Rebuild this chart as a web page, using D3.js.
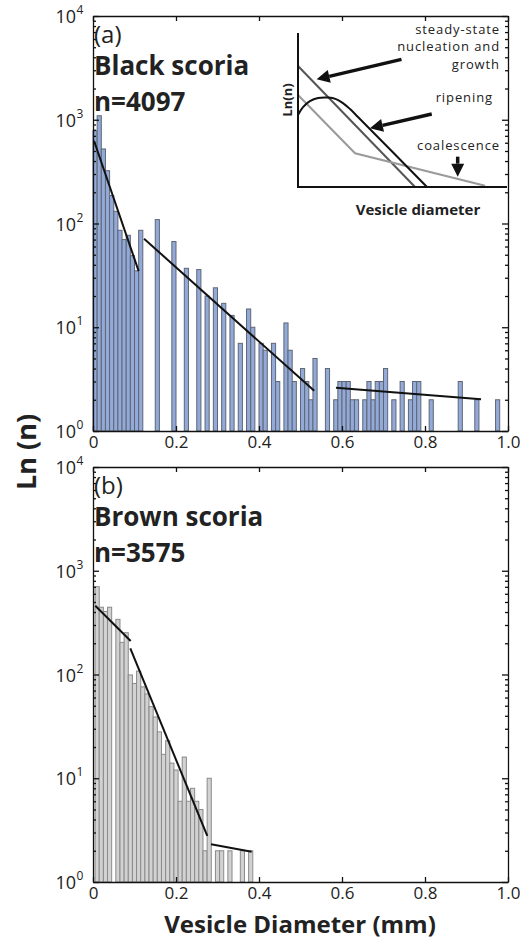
<!DOCTYPE html>
<html>
<head>
<meta charset="utf-8">
<script src="https://cdn.jsdelivr.net/npm/d3@7"></script>
<style>
  body { margin: 0; background: #fff; }
  svg { display: block; font-family: "Open Sans", sans-serif; }
</style>
</head>
<body>
<svg id="chart" width="520" height="946"></svg>
<script>
// (a) black scoria: bin centres (mm) and counts per 0.01 mm bin
var blackBins = [0.005, 0.015, 0.025, 0.035, 0.045, 0.055, 0.065, 0.075, 0.085, 0.095, 0.105, 0.115,
  0.155, 0.195, 0.225, 0.255, 0.275, 0.295, 0.315, 0.335, 0.355, 0.375, 0.385, 0.405, 0.415,
  0.435, 0.445, 0.465, 0.475, 0.485, 0.505, 0.515, 0.525, 0.535, 0.565, 0.585, 0.595, 0.605,
  0.615, 0.625, 0.635, 0.655, 0.665, 0.675, 0.685, 0.695, 0.705, 0.725, 0.745, 0.765, 0.775,
  0.785, 0.815, 0.885, 0.925, 0.975];
var blackCounts = [784, 1093, 523, 323, 186, 131, 86, 70, 77, 49, 35, 86,
  109, 67, 37, 36, 20, 24, 17, 13, 7, 15, 10, 7, 6,
  7, 3, 11, 6, 3, 4, 3, 2, 5, 4, 2, 3, 3,
  3, 2, 2, 2, 3, 2, 3, 3, 4, 2, 3, 2, 3,
  3, 2, 3, 2, 2];

// (b) brown scoria
var brownBins = [0.01, 0.02, 0.03, 0.04, 0.06, 0.07, 0.08, 0.09, 0.10, 0.11, 0.12, 0.13, 0.14,
  0.15, 0.16, 0.17, 0.18, 0.19, 0.20, 0.21, 0.22, 0.23, 0.24, 0.25, 0.26, 0.27, 0.28,
  0.30, 0.31, 0.33, 0.36, 0.38];
var brownCounts = [702, 445, 405, 445, 340, 204, 253, 99, 82, 108, 76, 65, 49,
  39, 28, 17, 23, 14, 12, 6, 16, 6, 8, 6, 5, 2, 10,
  2, 2, 2, 2, 2];

// fitted segments, [diameter, n] end points
var blackFits = [[[0.0024, 628], [0.110, 34.8]], [[0.123, 71.3], [0.533, 2.44]], [[0.5855, 2.61], [0.935, 2.02]]];
var brownFits = [[[0.0055, 460], [0.0908, 210]], [[0.0899, 179], [0.2754, 2.78]], [[0.2843, 2.31], [0.3824, 1.96]]];

var xTicks = [0, 0.2, 0.4, 0.6, 0.8, 1.0];
var yTicks = [1, 10, 100, 1000, 10000];
var yTickExp = ['0', '1', '2', '3', '4'];

// inset sketch, in 0-1 units of the inset box
var insetAxis = [[0, 1], [0, 0], [1, 0]];
var insetSteady = [[0, 0.786], [0.56, 0]];
var insetCoal = [[0, 0.597], [0.273, 0.219], [0.895, 0.008]];
var insetRipen = [[0, 0.468], [0.024, 0.519], [0.057, 0.558], [0.096, 0.578], [0.144, 0.581],
  [0.182, 0.571], [0.215, 0.545], [0.249, 0.506], [0.287, 0.455], [0.616, 0.002]];
var insetArrows = [[[0.495, 0.829], [0.089, 0.699]], [[0.64, 0.474], [0.344, 0.381]], [[0.764, 0.197], [0.764, 0.067]]];

var svg = d3.select('#chart');
var x = d3.scaleLinear().domain([0, 1]).range([93, 508]);
var binW = 0.01;

var minorTicks = [];
[1, 10, 100, 1000].forEach(function(d) {
  for (var k = 2; k < 10; k++) minorTicks.push(d * k);
});

function fmtX(d) { return d === 0 ? '0' : d3.format('.1f')(d); }

function drawPanel(top, bins, counts, fits, fill, stroke, tag, name, n) {
  var y = d3.scaleLog().domain([1, 1e4]).range([top + 415, top]);
  var g = svg.append('g');

  g.selectAll('rect.bar')
    .data(d3.zip(bins, counts).filter(function(d) { return d[1] > 0; }))
    .join('rect')
    .attr('class', 'bar')
    .attr('x', function(d) { return x(d[0] - binW / 2); })
    .attr('y', function(d) { return y(d[1]); })
    .attr('width', x(binW) - x(0))
    .attr('height', function(d) { return y(1) - y(d[1]); })
    .attr('fill', fill)
    .attr('stroke', stroke)
    .attr('stroke-width', 1);

  var line = d3.line().x(function(d) { return x(d[0]); }).y(function(d) { return y(d[1]); });
  g.selectAll('path.fit')
    .data(fits)
    .join('path')
    .attr('class', 'fit')
    .attr('d', line)
    .attr('fill', 'none')
    .attr('stroke', '#111')
    .attr('stroke-width', 2);

  // box with inward ticks
  var axes = g.append('g').attr('class', 'axes');
  axes.append('g').attr('transform', 'translate(0,' + y(1) + ')')
    .call(d3.axisBottom(x).tickValues(xTicks).tickSizeInner(-5).tickSizeOuter(0).tickPadding(5).tickFormat(fmtX));
  axes.append('g').attr('transform', 'translate(0,' + y(1e4) + ')')
    .call(d3.axisTop(x).tickValues(xTicks).tickSizeInner(-5).tickSizeOuter(0).tickFormat(''));
  axes.append('g').attr('transform', 'translate(' + x(0) + ',0)')
    .call(d3.axisLeft(y).tickValues(yTicks).tickSizeInner(-6).tickSizeOuter(0).tickFormat(''));
  axes.append('g').attr('transform', 'translate(' + x(0) + ',0)')
    .call(d3.axisLeft(y).tickValues(minorTicks).tickSizeInner(-3).tickSizeOuter(0).tickFormat(''))
    .select('.domain').remove();
  axes.append('g').attr('transform', 'translate(' + x(1) + ',0)')
    .call(d3.axisRight(y).tickValues(yTicks).tickSizeInner(-6).tickSizeOuter(0).tickFormat(''));
  axes.append('g').attr('transform', 'translate(' + x(1) + ',0)')
    .call(d3.axisRight(y).tickValues(minorTicks).tickSizeInner(-3).tickSizeOuter(0).tickFormat(''))
    .select('.domain').remove();
  axes.selectAll('.domain, .tick line').attr('stroke', '#111').attr('stroke-width', 1.3);
  axes.selectAll('.tick text').attr('font-size', 17).attr('fill', '#222').attr('font-family', '"Open Sans", sans-serif');

  // log tick labels 10^k
  var lab = g.selectAll('g.ylab').data(d3.zip(yTicks, yTickExp)).join('g').attr('class', 'ylab');
  lab.append('text')
    .attr('x', 76).attr('y', function(d) { return y(d[0]) + 7; })
    .attr('text-anchor', 'end').attr('font-size', 18).attr('fill', '#222')
    .text('10');
  lab.append('text')
    .attr('x', 76.5).attr('y', function(d) { return y(d[0]) - 2; })
    .attr('font-size', 12).attr('fill', '#222')
    .text(function(d) { return d[1]; });

  g.append('text').attr('x', 94).attr('y', top + 27).attr('font-size', 24).attr('fill', '#222').text(tag);
  g.append('text').attr('x', 94).attr('y', top + 59).attr('font-size', 26).attr('font-weight', 'bold').attr('fill', '#222').text(name);
  g.append('text').attr('x', 94).attr('y', top + 95).attr('font-size', 26).attr('font-weight', 'bold').attr('fill', '#222').text(n);
}

drawPanel(16, blackBins, blackCounts, blackFits, '#93aad8', '#5e6675', '(a)', 'Black scoria', 'n=4097');
drawPanel(467, brownBins, brownCounts, brownFits, '#d2d2d2', '#8a8a8a', '(b)', 'Brown scoria', 'n=3575');

svg.append('text')
  .attr('transform', 'translate(36,452) rotate(-90)')
  .attr('text-anchor', 'middle').attr('font-size', 27).attr('font-weight', 'bold').attr('fill', '#222')
  .text('Ln (n)');
svg.append('text')
  .attr('x', 300).attr('y', 933)
  .attr('text-anchor', 'middle').attr('font-size', 24).attr('font-weight', 'bold').attr('fill', '#222')
  .text('Vesicle Diameter (mm)');

// inset: schematic CSD shapes
var ix = d3.scaleLinear().domain([0, 1]).range([298, 507]);
var iy = d3.scaleLinear().domain([0, 1]).range([187, 33]);
var iline = d3.line().x(function(d) { return ix(d[0]); }).y(function(d) { return iy(d[1]); });
var inset = svg.append('g').attr('class', 'inset');

inset.append('path').attr('d', iline(insetSteady)).attr('fill', 'none').attr('stroke', '#555').attr('stroke-width', 2);
inset.append('path').attr('d', iline(insetCoal)).attr('fill', 'none').attr('stroke', '#9a9a9a').attr('stroke-width', 2);
inset.append('path').attr('d', iline.curve(d3.curveCatmullRom)(insetRipen)).attr('fill', 'none').attr('stroke', '#111').attr('stroke-width', 2);
iline.curve(d3.curveLinear);
inset.append('path').attr('d', iline(insetAxis)).attr('fill', 'none').attr('stroke', '#111').attr('stroke-width', 2);

insetArrows.forEach(function(a) {
  var x0 = ix(a[0][0]), y0 = iy(a[0][1]), x1 = ix(a[1][0]), y1 = iy(a[1][1]);
  var ang = Math.atan2(y1 - y0, x1 - x0), hl = 13, hw = 6.5;
  var bx = x1 - hl * Math.cos(ang), by = y1 - hl * Math.sin(ang);
  inset.append('line').attr('x1', x0).attr('y1', y0).attr('x2', bx).attr('y2', by)
    .attr('stroke', '#111').attr('stroke-width', 3.5);
  var px = -Math.sin(ang) * hw, py = Math.cos(ang) * hw;
  inset.append('path')
    .attr('d', 'M' + x1 + ',' + y1 + 'L' + (bx + px) + ',' + (by + py) + 'L' + (bx - px) + ',' + (by - py) + 'Z')
    .attr('fill', '#111');
});

var insetText = [['steady-state', 500, 33.5], ['nucleation and', 500, 51.3], ['growth', 500, 69.1],
  ['ripening', 493, 101.7], ['coalescence', 500, 150]];
inset.selectAll('text.note').data(insetText).join('text')
  .attr('class', 'note')
  .attr('x', function(d) { return d[1]; }).attr('y', function(d) { return d[2]; })
  .attr('text-anchor', 'end').attr('font-size', 13).attr('letter-spacing', 0.9).attr('fill', '#222')
  .text(function(d) { return d[0]; });
inset.append('text').attr('x', 418).attr('y', 215).attr('text-anchor', 'middle')
  .attr('font-size', 15).attr('font-weight', 'bold').attr('fill', '#222').text('Vesicle diameter');
inset.append('text').attr('transform', 'translate(292,100) rotate(-90)').attr('text-anchor', 'middle')
  .attr('font-size', 13).attr('font-weight', 'bold').attr('fill', '#222').text('Ln(n)');
</script>
</body>
</html>
